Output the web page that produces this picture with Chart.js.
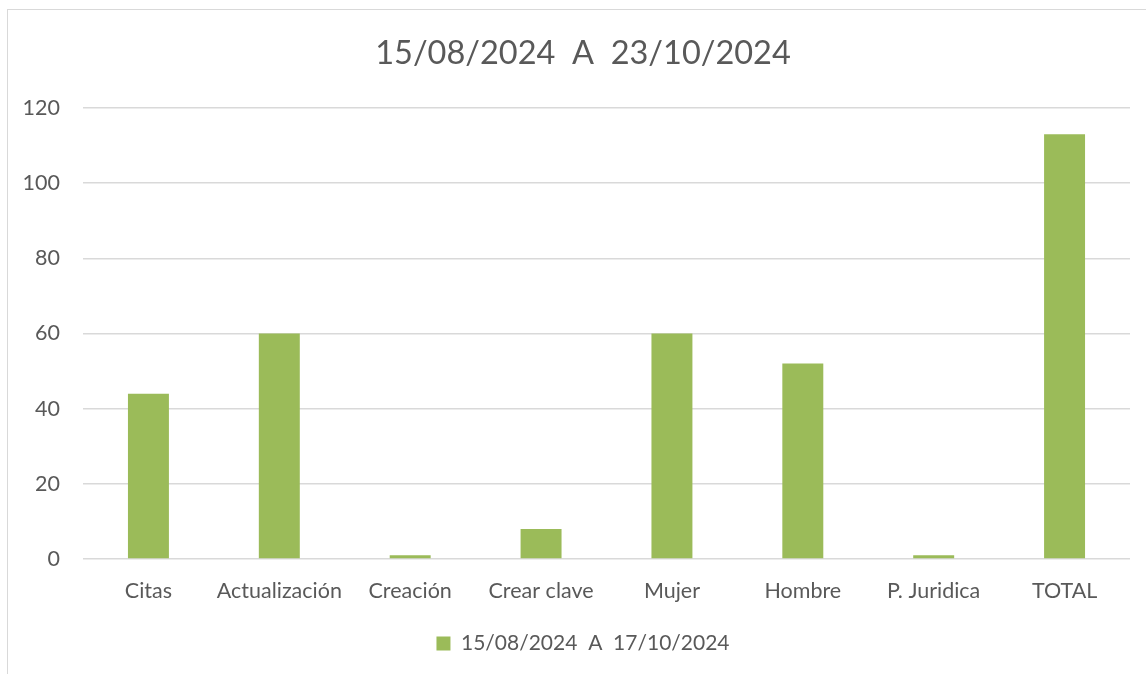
<!DOCTYPE html>
<html>
<head>
<meta charset="utf-8">
<script src="https://cdn.jsdelivr.net/npm/chart.js@4"></script>
<style>
html,body{margin:0;padding:0;background:#fff;}
#wrap{position:relative;width:1146px;height:674px;}
</style>
</head>
<body>
<div id="wrap"><canvas id="c" width="1146" height="674"></canvas></div>
<script>
const categories = ["Citas","Actualización","Creación","Crear clave","Mujer","Hombre","P. Juridica","TOTAL"];
const seriesLabel = "15/08/2024  A  17/10/2024";
const seriesValues = [44, 60, 1, 8, 60, 52, 1, 113];
const titleText = "15/08/2024  A  23/10/2024";
const yTicks = [0, 20, 40, 60, 80, 100, 120];

const FONT = "Lato, 'Open Sans', sans-serif";
const GREY = "#595959";

const borderPlugin = {
  id: 'outerBorder',
  afterLayout(chart) {
    // let the y tick labels extend into the left padding without being clipped
    chart.scales.y.left = 0;
  },
  beforeDraw(chart) {
    const ctx = chart.ctx;
    ctx.save();
    ctx.fillStyle = '#fff';
    ctx.fillRect(0, 0, chart.width, chart.height);
    ctx.strokeStyle = '#d9d9d9';
    ctx.lineWidth = 1;
    ctx.strokeRect(7.5, 9.5, 1200, 700);
    ctx.restore();
  }
};

new Chart(document.getElementById('c'), {
  type: 'bar',
  data: {
    labels: categories,
    datasets: [{
      label: seriesLabel,
      data: seriesValues,
      backgroundColor: '#9BBB59',
      borderWidth: 0,
      categoryPercentage: 1,
      barPercentage: 0.313
    }]
  },
  options: {
    responsive: false,
    animation: false,
    devicePixelRatio: 1,
    layout: { padding: { left: 36, right: 16, top: 0, bottom: 10 } },
    plugins: {
      title: {
        display: true,
        text: titleText,
        color: GREY,
        font: { family: FONT, size: 32.5, weight: 'normal' },
        padding: { top: 34, bottom: 35 }
      },
      legend: {
        display: true,
        position: 'bottom',
        labels: {
          color: GREY,
          font: { family: FONT, size: 21 },
          boxWidth: 14,
          boxHeight: 14,
          padding: 10
        }
      },
      tooltip: { enabled: false }
    },
    scales: {
      x: {
        grid: { display: false, drawTicks: false },
        border: { display: false },
        ticks: { color: GREY, font: { family: FONT, size: 21.5 }, padding: 19, maxRotation: 0 },
        afterFit(scale) { scale.height = 64; }
      },
      y: {
        min: 0, max: 120,
        afterBuildTicks(scale) { scale.ticks = yTicks.map(v => ({ value: v })); },
        grid: { color: '#d9d9d9', lineWidth: 1.5, drawTicks: false },
        border: { display: false },
        ticks: { color: GREY, font: { family: FONT, size: 21.5 }, padding: 23 },
        afterFit(scale) { scale.width = 47; }
      }
    }
  },
  plugins: [borderPlugin]
});
</script>
</body>
</html>
